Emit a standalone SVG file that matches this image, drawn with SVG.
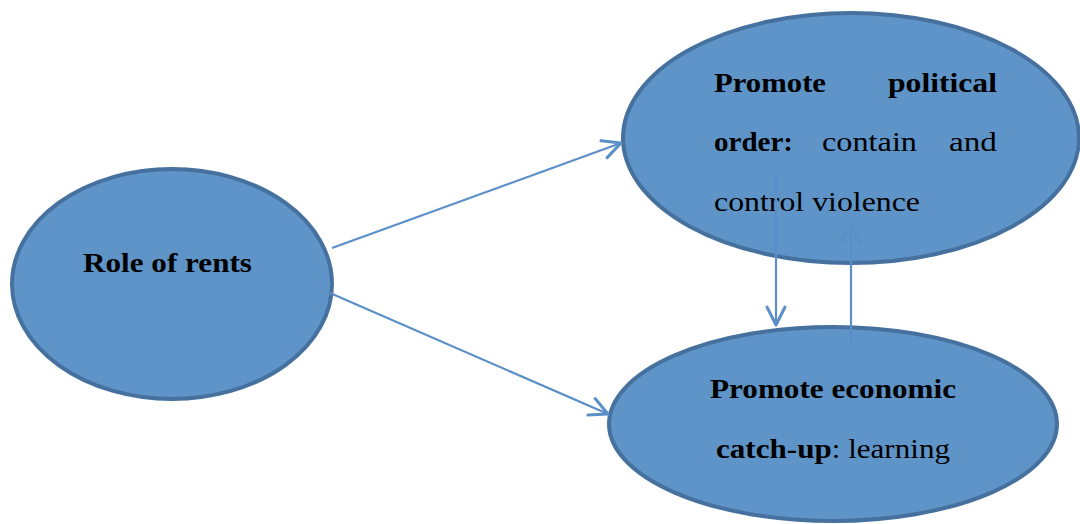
<svg xmlns="http://www.w3.org/2000/svg" width="1080" height="524" viewBox="0 0 1080 524">
<style>
.node{fill:#5e94c8;stroke:#46719f;stroke-width:4}
.t{font-family:"Liberation Serif","DejaVu Serif",serif;font-size:28px;fill:#000}
.b{font-weight:bold}
.c{stroke:#5b8fc7;stroke-width:2.2;fill:none}
</style>
<defs>
<marker id="ah2" viewBox="0 0 24 24" refX="21" refY="12" markerWidth="24" markerHeight="24" markerUnits="userSpaceOnUse" orient="auto">
<path d="M3,3 L21,12 L3,21" fill="none" stroke="#5b8fc7" stroke-width="3" stroke-linecap="round" stroke-linejoin="round"/>
</marker>
</defs>
<g id="n-rents">
<ellipse class="node" cx="172" cy="284" rx="160" ry="115"/>
<text class="t b" x="83" y="272" textLength="169" lengthAdjust="spacingAndGlyphs">Role of rents</text>
</g>
<g id="n-political">
<ellipse class="node" cx="851" cy="138" rx="228" ry="125"/>
<text class="t b" x="714" y="92" textLength="112" lengthAdjust="spacingAndGlyphs">Promote</text>
<text class="t b" x="888" y="92" textLength="109" lengthAdjust="spacingAndGlyphs">political</text>
<text class="t b" x="714" y="151" textLength="79" lengthAdjust="spacingAndGlyphs">order:</text>
<text class="t" x="822" y="151" textLength="95" lengthAdjust="spacingAndGlyphs">contain</text>
<text class="t" x="949" y="151" textLength="48" lengthAdjust="spacingAndGlyphs">and</text>
<text class="t" x="714" y="211" textLength="206" lengthAdjust="spacingAndGlyphs">control violence</text>
</g>
<g id="n-economic">
<ellipse class="node" cx="833" cy="424" rx="224" ry="97"/>
<text class="t b" x="710" y="398" textLength="246" lengthAdjust="spacingAndGlyphs">Promote economic</text>
<text class="t" x="716" y="458" textLength="234" lengthAdjust="spacingAndGlyphs"><tspan class="b">catch-up</tspan>: learning</text>
</g>
<g id="connectors">
<line class="c" x1="332" y1="248" x2="621" y2="143" marker-end="url(#ah2)"/>
<line class="c" x1="330" y1="293" x2="608" y2="414" marker-end="url(#ah2)"/>
<line class="c" x1="776" y1="176" x2="776" y2="325" marker-end="url(#ah2)"/>
<line class="c" x1="851" y1="347" x2="851" y2="224" marker-end="url(#ah2)"/>
</g>
</svg>
